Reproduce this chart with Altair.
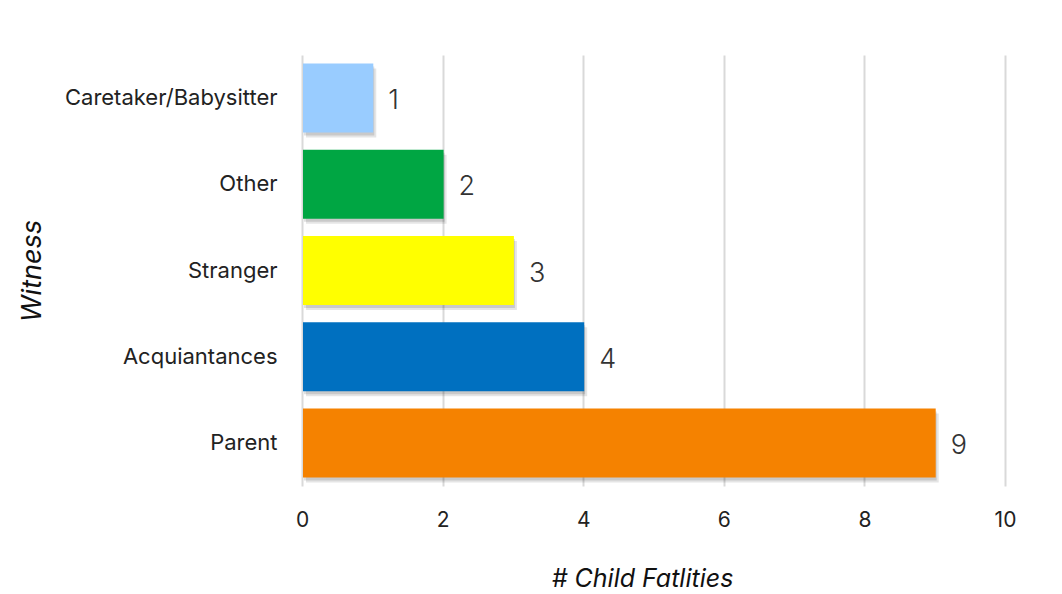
import altair as alt
import pandas as pd

categories = ["Caretaker/Babysitter", "Other", "Stranger", "Acquiantances", "Parent"]
values = [1, 2, 3, 4, 9]
colors = ["#99CCFF", "#00A643", "#FFFF00", "#0070C0", "#F58200"]

df = pd.DataFrame({"Witness": categories, "Count": values, "Color": colors})

FONT = "Inter"

y_enc = alt.Y(
    "Witness:N",
    sort=categories,
    scale=alt.Scale(paddingInner=0.2, paddingOuter=0.1),
    axis=alt.Axis(
        title="Witness",
        titleFont=FONT,
        titleFontSize=27,
        titleFontStyle="italic",
        titleFontWeight="normal",
        titleColor="#111111",
        titleBaseline="middle",
        titleX=-270,
        labelFont=FONT,
        labelFontSize=22,
        labelColor="#222222",
        labelPadding=25,
        labelLimit=400,
        ticks=False,
        domain=False,
        grid=False,
    ),
)

x_enc = alt.X(
    "Count:Q",
    scale=alt.Scale(domain=[0, 10]),
    axis=alt.Axis(
        title="# Child Fatlities",
        titleFont=FONT,
        titleFontSize=25,
        titleFontStyle="italic",
        titleFontWeight="normal",
        titleColor="#111111",
        titlePadding=36,
        titleX=340,
        values=[0, 2, 4, 6, 8, 10],
        labelFont=FONT,
        labelFontSize=21,
        labelColor="#222222",
        labelPadding=23,
        labelFlush=False,
        ticks=False,
        domain=False,
        grid=True,
        gridColor="#d9d9d9",
        gridWidth=2,
    ),
)

base = alt.Chart(df)

shadow1 = base.mark_bar(color="#000000", opacity=0.10, xOffset=4, yOffset=5).encode(
    x=x_enc, y=y_enc
)
shadow2 = base.mark_bar(color="#000000", opacity=0.12, xOffset=2, yOffset=3).encode(
    x=x_enc, y=y_enc
)

bars = base.mark_bar(xOffset=1).encode(
    x=x_enc,
    y=y_enc,
    color=alt.Color("Color:N", scale=None),
)

labels = base.mark_text(
    align="left",
    baseline="middle",
    dx=16,
    dy=3,
    font=FONT,
    fontSize=27,
    fontWeight=300,
    color="#333333",
).encode(x=x_enc, y=y_enc, text="Count:Q")

chart = (
    alt.layer(shadow1, shadow2, bars, labels)
    .properties(
        width=703,
        height=431,
        autosize=alt.AutoSizeParams(type="none"),
        padding={"left": 294, "top": 47, "right": 49, "bottom": 120},
        background="white",
    )
    .configure_view(stroke=None)
)

chart.save("out.html", embed_options={"renderer": "svg", "actions": False})
